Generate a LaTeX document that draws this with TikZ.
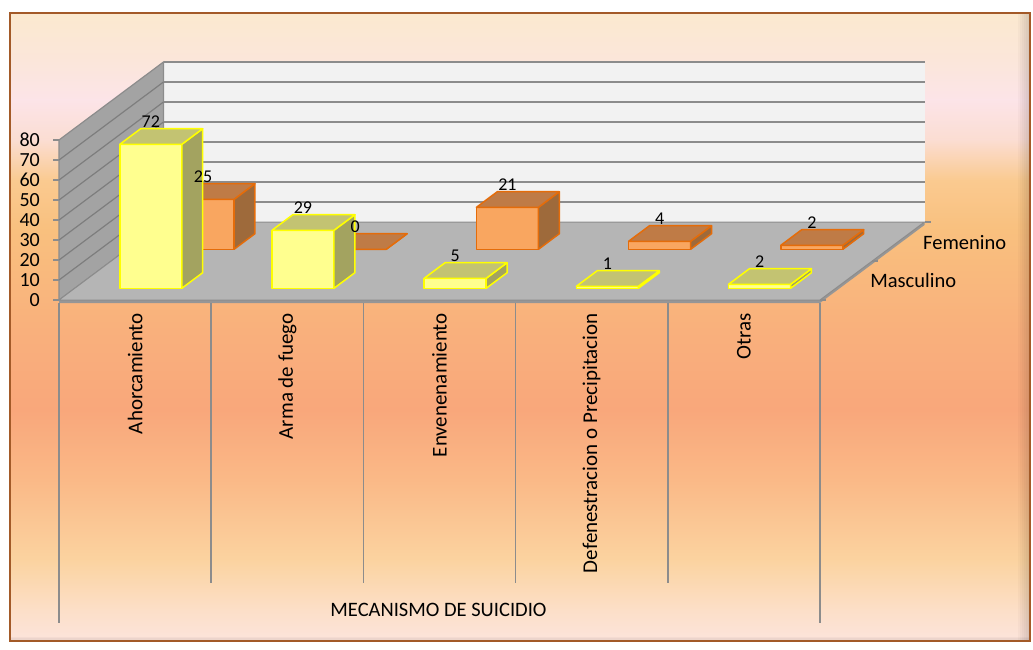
\documentclass[tikz,border=0pt]{standalone}
\usepackage{fontspec}
\setmainfont{Carlito}

\definecolor{fondoA}{HTML}{FBE9CF}
\definecolor{fondoB}{HTML}{FBE6DA}
\definecolor{fondoC}{HTML}{FCE4E8}
\definecolor{fondoD}{HTML}{FBDDD2}
\definecolor{fondoE}{HTML}{FACA90}
\definecolor{fondoF}{HTML}{F9C07E}
\definecolor{fondoG}{HTML}{F9B07C}
\definecolor{fondoH}{HTML}{F9A77B}
\definecolor{fondoI}{HTML}{FAB987}
\definecolor{fondoJ}{HTML}{FBD3A0}
\definecolor{fondoK}{HTML}{FCDFC8}
\definecolor{fondoL}{HTML}{FCE4DC}
\definecolor{marco}{HTML}{A35A28}
\definecolor{pared}{HTML}{F2F2F2}
\definecolor{paredLat}{HTML}{A3A3A3}
\definecolor{piso}{HTML}{B5B5B5}
\definecolor{pisoBorde}{HTML}{969696}
\definecolor{gris}{HTML}{8C8C8C}
\definecolor{amarillo}{HTML}{FFFF8F}
\definecolor{amarilloTop}{HTML}{C3C372}
\definecolor{amarilloLado}{HTML}{A3A360}
\definecolor{amarilloBorde}{HTML}{FFFF00}
\definecolor{naranja}{HTML}{F9A660}
\definecolor{naranjaTop}{HTML}{BF7B46}
\definecolor{naranjaLado}{HTML}{9E6A3B}
\definecolor{naranjaBorde}{HTML}{E46C0A}

\begin{document}
\begin{tikzpicture}[x=1pt, y=-1pt,
    rejilla/.style={draw=gris, line width=1.6pt},
    barM/.style={draw=amarilloBorde, line width=1.5pt, line join=round},
    barF/.style={draw=naranjaBorde, line width=1.5pt, line join=round},
    etiqueta/.style={anchor=base, yshift=16.5pt, inner sep=0pt, font=\fontsize{18}{20}\selectfont},
    ejeNum/.style={anchor=east, inner sep=0pt, font=\fontsize{20}{22}\selectfont},
    categoria/.style={anchor=east, rotate=90, inner sep=0pt, font=\fontsize{21}{24}\selectfont},
    leyenda/.style={anchor=base west, inner sep=0pt, font=\fontsize{20.5}{24}\selectfont}]

    \useasboundingbox (0,0) rectangle (1033,650);
    \fill[white] (0,0) rectangle (1033,650);

    % fondo degradado
    \foreach \ya/\ca/\yb/\cb in {13/fondoA/60/fondoB, 60/fondoB/100/fondoC, 100/fondoC/140/fondoD,
        140/fondoD/180/fondoE, 180/fondoE/230/fondoF, 230/fondoF/330/fondoG, 330/fondoG/410/fondoH,
        410/fondoH/480/fondoI, 480/fondoI/560/fondoJ, 560/fondoJ/610/fondoK, 610/fondoK/641/fondoL}
        \shade[top color=\ca, bottom color=\cb] (10,\ya) rectangle (1030,{\yb+0.6});
    \foreach \k in {1,...,6}
        \fill[black, opacity=0.025] ({1030-2*\k},13) rectangle (1030,641);
    \foreach \k in {1,...,3}
        \fill[black, opacity=0.03] (10,{641-1.5*\k}) rectangle (1030,641);
    \draw[marco, line width=2.5pt] (10,13) rectangle (1030,641);

    \begin{scope}[shift={(59,300)}, y=2pt, z={(104.5pt,78pt)}]
        % paredes
        \filldraw[fill=pared, draw=none] (0,0,1) -- (761,0,1) -- (761,80,1) -- (0,80,1) -- cycle;
        \foreach \v in {10,20,...,80}
            \draw[rejilla] (0,\v,1) -- (761,\v,1);
        \filldraw[fill=paredLat, draw=gris, line width=1.2pt] (0,0,0) -- (0,80,0) -- (0,80,1) -- (0,0,1) -- cycle;
        \foreach \v in {10,20,...,70}
            \draw[draw=gris!90!black, line width=1.2pt] (0,\v,0) -- (0,\v,1);

        % piso
        \filldraw[fill=pisoBorde, draw=none] (0,0,0) -- (761,0,0) -- (761,0,1) -- (761,-1.5,1) -- (761,-1.5,0) -- (0,-1.5,0) -- cycle;
        \filldraw[fill=piso, draw=gris, line width=1pt] (0,0,0) -- (761,0,0) -- (761,0,1) -- (0,0,1) -- cycle;
        \foreach \z in {0,0.5,1}
            \draw[rejilla, line width=1.2pt] (761,0,\z) -- ++(6,0);

        % eje vertical
        \foreach \v in {0,10,...,80}{
            \draw[rejilla, line width=1.2pt] (-6,\v,0) -- (0,\v,0);
            \node[ejeNum] (y\v) at (-19,\v,0) {\v};
        }

        % divisiones de categorias
        \draw[rejilla] (0,-1.5,0) -- (0,-161.5,0);
        \draw[rejilla] (761,-1.5,0) -- (761,-161.5,0);
        \foreach \i in {1,...,4}
            \draw[rejilla] ({152.2*\i},-1.5,0) -- ++(0,-140);

        % barras femenino (fila trasera)
        \foreach \i/\v in {0/25,1/0,2/21,3/4,4/2}{
            \pgfmathsetmacro{\xa}{45.1+152.2*\i}
            \pgfmathsetmacro{\xb}{\xa+62}
            \filldraw[barF, fill=naranja] (\xa,0,0.65) -- (\xb,0,0.65) -- (\xb,\v,0.65) -- (\xa,\v,0.65) -- cycle;
            \filldraw[barF, fill=naranjaLado] (\xb,0,0.65) -- (\xb,0,0.85) -- (\xb,\v,0.85) -- (\xb,\v,0.65) -- cycle;
            \filldraw[barF, fill=naranjaTop] (\xa,\v,0.65) -- (\xb,\v,0.65) -- (\xb,\v,0.85) -- (\xa,\v,0.85) -- cycle;
        }

        % barras masculino (fila delantera)
        \foreach \i/\v in {0/72,1/29,2/5,3/1,4/2}{
            \pgfmathsetmacro{\xa}{45.1+152.2*\i}
            \pgfmathsetmacro{\xb}{\xa+62}
            \filldraw[barM, fill=amarillo] (\xa,0,0.15) -- (\xb,0,0.15) -- (\xb,\v,0.15) -- (\xa,\v,0.15) -- cycle;
            \filldraw[barM, fill=amarilloLado] (\xb,0,0.15) -- (\xb,0,0.35) -- (\xb,\v,0.35) -- (\xb,\v,0.15) -- cycle;
            \filldraw[barM, fill=amarilloTop] (\xa,\v,0.15) -- (\xb,\v,0.15) -- (\xb,\v,0.35) -- (\xa,\v,0.35) -- cycle;
        }

        % valores
        \foreach \i/\v in {0/25,1/0,2/21,3/4,4/2}
            \node[etiqueta] (fem\i) at ({76.1+152.2*\i},\v,0.65) {\v};
        \foreach \i/\v in {0/72,1/29,2/5,3/1,4/2}
            \node[etiqueta] (mas\i) at ({76.1+152.2*\i},\v,0.15) {\v};

        % categorias
        \foreach \i/\t in {0/Ahorcamiento,1/Arma de fuego,2/Envenenamiento,3/Defenestracion o Precipitacion,4/Otras}
            \node[categoria] (cat\i) at ({76.1+152.2*\i},-6.5,0) {\t};
        \node[anchor=base, inner sep=0pt, font=\fontsize{20.5}{24}\selectfont] (titulo) at (379.5,-158,0) {MECANISMO DE SUICIDIO};

        % leyenda
        \node[leyenda, yshift=-7.5pt, xshift=24.6pt] (femenino) at (761,0,0.75) {Femenino};
        \node[leyenda, yshift=-6.5pt, xshift=24pt] (masculino) at (761,0,0.25) {Masculino};
    \end{scope}
\end{tikzpicture}
\end{document}
